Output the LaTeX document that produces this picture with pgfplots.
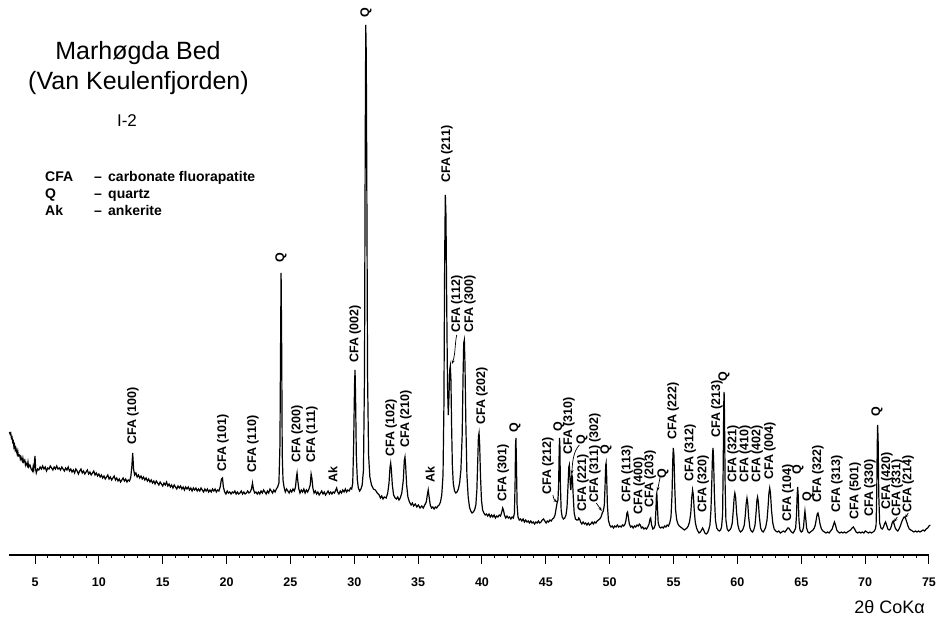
\documentclass[border=0pt]{standalone}
\usepackage{fontspec}
\setmainfont{Liberation Sans}
\usepackage{pgfplots}
\pgfplotsset{compat=1.18}
\usetikzlibrary{arrows.meta}
\tikzset{
  lab/.style={rotate=90, inner sep=0pt, font=\bfseries\fontsize{12.5bp}{14bp}\selectfont},
  arr/.style={line width=0.7bp, -{Stealth[length=4bp,width=3bp]}},
}

\begin{document}
\begin{tikzpicture}
\useasboundingbox (0,0) rectangle (939bp,618bp);
\begin{axis}[
  at={(9.46bp,63bp)}, anchor=south west,
  scale only axis, width=919.5bp, height=555bp,
  xmin=3, xmax=75, ymin=0, ymax=555,
  clip=false,
  axis x line*=bottom, axis y line=none,
  axis line style={line width=1.7bp},
  xtick={5,10,...,75}, minor x tick num=4,
  tick align=outside,
  major tick length=9bp, minor tick length=3bp,
  every tick/.style={black, line width=1bp},
  /pgf/number format/assume math mode=true,
  xticklabel style={font=\bfseries\fontsize{12.5bp}{14bp}\selectfont, inner sep=0pt, anchor=north, yshift=-14bp},
]
% diffraction trace (2theta, intensity)
\addplot[black, line width=1.2bp] coordinates {
(3.00,123)(3.05,121)(3.10,122)(3.15,117)(3.20,118)(3.25,113)(3.30,114)(3.35,108)(3.40,110)(3.45,105)
(3.50,107)(3.60,101)(3.65,104)(3.70,99)(3.80,100)(3.85,96)(3.90,98)(4.00,94)(4.05,97)(4.10,93)
(4.20,95)(4.25,90)(4.30,92)(4.40,89)(4.45,93)(4.50,88)(4.60,90)(4.70,86)(4.80,84)(4.85,88)
(4.90,85)(4.95,92)(5.00,99)(5.05,86)(5.10,82)(5.20,86)(5.30,85)(5.40,88)(5.50,86)(5.60,89)
(5.70,86)(5.80,88)(5.90,84)(6.00,87)(6.10,86)(6.20,89)(6.30,87)(6.40,85)(6.50,88)(6.60,86)
(6.70,89)(6.80,86)(6.90,87)(7.00,85)(7.10,88)(7.20,86)(7.30,84)(7.40,87)(7.50,85)(7.60,88)
(7.70,84)(7.80,86)(7.90,83)(8.00,85)(8.10,82)(8.20,86)(8.30,84)(8.40,81)(8.50,84)(8.60,86)
(8.70,82)(8.80,84)(8.90,81)(9.00,83)(9.10,85)(9.20,81)(9.30,83)(9.40,80)(9.50,82)(9.60,84)
(9.70,80)(9.80,82)(9.90,79)(10.00,81)(10.10,78)(10.20,80)(10.30,77)(10.40,79)(10.50,76)(10.60,78)
(10.70,80)(10.80,76)(10.90,78)(11.00,75)(11.10,77)(11.20,79)(11.30,75)(11.40,77)(11.50,74)(11.60,76)
(11.70,73)(11.80,75)(11.90,77)(12.00,74)(12.10,76)(12.20,73)(12.30,75)(12.40,74)(12.50,78)(12.58,88)
(12.65,102)(12.72,86)(12.80,80)(12.90,82)(13.00,78)(13.10,80)(13.20,77)(13.30,79)(13.40,76)(13.50,78)
(13.60,75)(13.70,77)(13.80,74)(13.90,76)(14.00,73)(14.10,75)(14.20,72)(14.30,74)(14.40,71)(14.50,74)
(14.60,72)(14.70,70)(14.80,73)(14.90,71)(15.00,69)(15.10,72)(15.20,70)(15.30,73)(15.40,69)(15.50,71)
(15.60,68)(15.70,70)(15.80,67)(15.90,70)(16.00,68)(16.10,66)(16.20,69)(16.30,67)(16.40,69)(16.50,66)
(16.60,68)(16.70,65)(16.80,68)(16.90,66)(17.00,68)(17.10,65)(17.20,67)(17.30,64)(17.40,67)(17.50,65)
(17.60,67)(17.70,64)(17.80,66)(17.90,64)(18.00,67)(18.10,65)(18.20,63)(18.30,66)(18.40,64)(18.50,66)
(18.60,63)(18.70,65)(18.80,63)(18.90,66)(19.00,64)(19.10,66)(19.20,63)(19.30,65)(19.40,64)(19.50,68)
(19.60,76)(19.68,77)(19.75,68)(19.85,63)(19.95,61)(20.05,64)(20.15,62)(20.25,63)(20.35,61)(20.45,63)
(20.55,62)(20.65,64)(20.75,61)(20.85,63)(20.95,61)(21.05,62)(21.15,64)(21.25,61)(21.35,63)(21.45,61)
(21.55,62)(21.65,64)(21.75,62)(21.85,63)(21.95,66)(22.03,72)(22.10,66)(22.20,62)(22.30,63)(22.40,61)
(22.50,63)(22.60,61)(22.70,64)(22.80,62)(22.90,65)(23.00,63)(23.10,61)(23.20,64)(23.30,62)(23.40,66)
(23.50,64)(23.60,62)(23.70,65)(23.80,63)(23.90,66)(24.00,68)(24.10,72)(24.18,110)(24.24,230)(24.27,282)
(24.31,220)(24.36,100)(24.42,75)(24.50,68)(24.60,63)(24.70,66)(24.80,64)(24.90,62)(25.00,65)(25.10,63)
(25.20,66)(25.30,64)(25.40,68)(25.47,78)(25.52,82)(25.58,74)(25.66,66)(25.75,62)(25.85,65)(25.95,63)
(26.05,66)(26.15,62)(26.25,65)(26.35,63)(26.45,66)(26.55,70)(26.62,81)(26.68,77)(26.76,67)(26.85,62)
(26.95,64)(27.05,61)(27.15,63)(27.25,60)(27.35,62)(27.45,64)(27.55,61)(27.65,63)(27.75,60)(27.85,62)
(27.95,64)(28.05,61)(28.15,63)(28.25,61)(28.35,63)(28.45,62)(28.55,65)(28.62,67)(28.70,63)(28.80,61)
(28.90,64)(29.00,62)(29.10,65)(29.20,63)(29.30,66)(29.40,63)(29.50,65)(29.60,64)(29.70,67)(29.80,66)
(29.88,72)(29.95,110)(30.02,170)(30.06,185)(30.10,160)(30.16,100)(30.24,75)(30.32,67)(30.42,64)(30.52,66)
(30.62,70)(30.72,85)(30.80,180)(30.86,420)(30.90,530)(30.94,500)(30.98,380)(31.04,180)(31.12,100)(31.22,78)
(31.35,70)(31.50,66)(31.65,65)(31.80,62)(31.95,60)(32.05,57)(32.15,59)(32.25,56)(32.35,58)(32.50,57)
(32.62,62)(32.72,72)(32.80,88)(32.85,92)(32.90,86)(32.98,70)(33.08,60)(33.20,57)(33.30,56)(33.40,58)
(33.50,55)(33.60,57)(33.72,62)(33.84,75)(33.92,95)(33.97,98)(34.02,90)(34.10,70)(34.20,58)(34.32,53)
(34.45,50)(34.55,52)(34.65,49)(34.78,51)(34.90,48)(35.02,50)(35.15,47)(35.28,49)(35.40,47)(35.52,50)
(35.64,53)(35.72,60)(35.79,65)(35.86,58)(35.95,50)(36.05,47)(36.15,48)(36.25,46)(36.35,48)(36.45,47)
(36.55,49)(36.65,50)(36.75,53)(36.85,60)(36.95,80)(37.02,150)(37.08,300)(37.13,360)(37.18,340)(37.24,250)
(37.30,170)(37.36,140)(37.42,160)(37.47,185)(37.52,189)(37.57,175)(37.62,130)(37.68,90)(37.75,72)(37.85,64)
(37.95,62)(38.05,63)(38.15,66)(38.25,72)(38.35,85)(38.45,120)(38.52,180)(38.57,212)(38.62,215)(38.67,190)
(38.74,130)(38.82,80)(38.92,58)(39.02,48)(39.12,44)(39.22,42)(39.32,43)(39.42,45)(39.52,50)(39.60,65)
(39.67,95)(39.72,118)(39.77,122)(39.82,110)(39.88,80)(39.96,55)(40.05,45)(40.15,42)(40.25,40)(40.35,41)
(40.45,39)(40.55,41)(40.65,38)(40.75,40)(40.85,38)(40.95,40)(41.05,37)(41.15,39)(41.25,38)(41.35,40)
(41.45,39)(41.55,43)(41.62,47)(41.68,45)(41.76,40)(41.86,37)(41.96,39)(42.06,37)(42.16,38)(42.26,36)
(42.36,38)(42.46,37)(42.54,42)(42.59,70)(42.63,110)(42.66,117)(42.70,90)(42.75,50)(42.82,38)(42.92,35)
(43.02,36)(43.12,34)(43.22,36)(43.32,33)(43.42,35)(43.52,33)(43.62,34)(43.72,32)(43.82,34)(43.92,32)
(44.02,33)(44.12,31)(44.22,33)(44.32,32)(44.42,34)(44.52,32)(44.62,33)(44.72,35)(44.82,36)(44.92,34)
(45.02,32)(45.12,34)(45.22,33)(45.32,35)(45.42,34)(45.52,36)(45.62,37)(45.72,40)(45.80,46)(45.88,52)
(45.95,55)(46.00,70)(46.04,100)(46.07,117)(46.10,110)(46.14,70)(46.20,45)(46.28,38)(46.38,36)(46.48,37)
(46.58,40)(46.66,48)(46.74,70)(46.80,88)(46.84,90)(46.88,80)(46.92,70)(46.96,65)(47.00,75)(47.04,80)
(47.08,78)(47.14,60)(47.22,42)(47.32,36)(47.42,35)(47.52,35)(47.58,37)(47.64,36)(47.72,33)(47.82,31)
(47.92,33)(48.02,31)(48.12,32)(48.22,30)(48.32,32)(48.42,30)(48.52,31)(48.62,33)(48.72,31)(48.82,33)
(48.92,32)(49.02,34)(49.12,35)(49.22,36)(49.32,38)(49.42,42)(49.50,44)(49.58,50)(49.64,70)(49.69,90)
(49.72,92)(49.76,80)(49.82,50)(49.90,35)(50.00,30)(50.10,28)(50.20,29)(50.30,27)(50.40,29)(50.50,28)
(50.60,30)(50.70,28)(50.80,29)(50.90,28)(51.00,30)(51.10,29)(51.20,31)(51.28,35)(51.35,42)(51.40,43)
(51.46,38)(51.54,31)(51.64,28)(51.74,29)(51.84,27)(51.94,29)(52.04,28)(52.14,30)(52.24,29)(52.32,31)
(52.40,30)(52.48,27)(52.58,28)(52.68,26)(52.78,27)(52.88,26)(52.98,28)(53.08,31)(53.16,36)(53.21,37)
(53.28,30)(53.38,26)(53.48,27)(53.56,30)(53.62,45)(53.66,60)(53.69,62)(53.73,50)(53.80,32)(53.90,28)
(54.00,27)(54.10,28)(54.20,27)(54.30,29)(54.40,28)(54.50,30)(54.60,29)(54.70,32)(54.80,38)(54.88,60)
(54.94,95)(54.98,107)(55.03,100)(55.09,70)(55.16,45)(55.25,35)(55.35,31)(55.45,29)(55.55,28)(55.65,27)
(55.75,26)(55.85,25)(55.95,26)(56.05,27)(56.15,29)(56.25,33)(56.35,42)(56.43,58)(56.49,65)(56.55,60)
(56.62,45)(56.70,33)(56.80,27)(56.90,24)(57.00,22)(57.10,23)(57.20,25)(57.28,27)(57.36,25)(57.45,22)
(57.55,21)(57.65,22)(57.75,25)(57.85,30)(57.93,45)(58.00,75)(58.05,100)(58.09,107)(58.13,98)(58.20,60)
(58.28,35)(58.38,27)(58.48,25)(58.58,24)(58.68,25)(58.76,28)(58.84,40)(58.89,90)(58.93,150)(58.96,163)
(58.99,140)(59.04,70)(59.10,35)(59.20,26)(59.30,24)(59.40,25)(59.50,27)(59.60,32)(59.68,45)(59.75,58)
(59.80,62)(59.86,58)(59.94,42)(60.04,30)(60.14,25)(60.24,23)(60.34,24)(60.44,26)(60.54,30)(60.62,40)
(60.69,52)(60.75,57)(60.81,52)(60.88,38)(60.98,27)(61.08,24)(61.18,23)(61.28,25)(61.38,30)(61.46,42)
(61.53,55)(61.58,58)(61.64,53)(61.72,38)(61.82,27)(61.92,24)(62.02,23)(62.12,25)(62.22,28)(62.32,35)
(62.40,48)(62.47,62)(62.53,67)(62.59,62)(62.67,45)(62.77,32)(62.88,26)(63.00,24)(63.12,23)(63.24,24)
(63.36,22)(63.48,23)(63.60,24)(63.72,23)(63.84,25)(63.94,27)(64.02,27)(64.12,25)(64.24,23)(64.36,22)
(64.46,24)(64.56,27)(64.63,40)(64.68,60)(64.72,68)(64.76,60)(64.82,35)(64.90,25)(65.00,23)(65.10,24)
(65.18,28)(65.24,38)(65.29,44)(65.34,38)(65.42,27)(65.52,23)(65.62,22)(65.72,23)(65.82,24)(65.92,25)
(66.02,27)(66.10,30)(66.18,36)(66.25,41)(66.31,42)(66.38,38)(66.47,31)(66.58,26)(66.70,24)(66.82,23)
(66.94,22)(67.06,23)(67.18,22)(67.30,24)(67.42,26)(67.52,30)(67.60,33)(67.68,30)(67.78,25)(67.90,23)
(68.02,22)(68.14,23)(68.26,22)(68.38,23)(68.50,22)(68.62,23)(68.74,24)(68.86,25)(68.98,27)(69.08,28)
(69.18,26)(69.30,23)(69.42,22)(69.54,23)(69.66,22)(69.78,23)(69.90,22)(70.02,24)(70.14,23)(70.26,22)
(70.38,23)(70.50,22)(70.62,23)(70.72,24)(70.80,26)(70.86,30)(70.91,60)(70.95,110)(70.98,130)(71.02,115)
(71.07,60)(71.14,32)(71.24,27)(71.34,26)(71.44,28)(71.52,31)(71.60,33)(71.68,30)(71.78,26)(71.88,25)
(71.98,26)(72.06,29)(72.14,33)(72.20,34)(72.27,31)(72.36,27)(72.46,25)(72.56,24)(72.66,26)(72.76,29)
(72.86,33)(72.96,36)(73.06,38)(73.16,37)(73.26,33)(73.36,29)(73.46,26)(73.58,25)(73.70,24)(73.82,23)
(73.94,24)(74.06,23)(74.18,24)(74.30,23)(74.42,24)(74.54,25)(74.66,24)(74.78,26)(74.90,27)(75.00,29)
(75.10,30)
};

% phase annotations
\node[lab, anchor=west] at (axis cs:12.67,110) {CFA (100)};
\node[lab, anchor=west] at (axis cs:19.72,83) {CFA (101)};
\node[lab, anchor=west] at (axis cs:22.07,82) {CFA (110)};
\node[lab] at (axis cs:24.26,297) {Q};
\node[lab, anchor=west] at (axis cs:25.52,92) {CFA (200)};
\node[lab, anchor=west] at (axis cs:26.69,92) {CFA (111)};
\node[lab, anchor=west] at (axis cs:28.33,72) {Ak};
\node[lab, anchor=west] at (axis cs:30.06,192) {CFA (002)};
\node[lab] at (axis cs:30.92,542) {Q};
\node[lab, anchor=west] at (axis cs:32.88,98) {CFA (102)};
\node[lab, anchor=west] at (axis cs:34.05,107) {CFA (210)};
\node[lab, anchor=west] at (axis cs:35.93,72) {Ak};
\node[lab, anchor=west] at (axis cs:37.26,372) {CFA (211)};
\node[lab, anchor=west] at (axis cs:38.04,222) {CFA (112)};
\draw[arr] (axis cs:38.02,220) .. controls (axis cs:37.88,212) and (axis cs:37.92,200) .. (axis cs:37.64,191);
\node[lab, anchor=west] at (axis cs:39.06,222) {CFA (300)};
\node[lab, anchor=west] at (axis cs:40.00,130) {CFA (202)};
\node[lab, anchor=west] at (axis cs:41.65,53) {CFA (301)};
\node[lab] at (axis cs:42.59,127) {Q};
\node[lab, anchor=west] at (axis cs:45.17,60) {CFA (212)};
\draw[arr] (axis cs:45.55,60) .. controls (axis cs:45.65,55) .. (axis cs:45.90,53);
\node[lab] at (axis cs:46.03,128) {Q};
\node[lab, anchor=west] at (axis cs:46.80,100) {CFA (310)};
\node[lab] at (axis cs:47.83,115) {Q};
\draw[arr] (axis cs:47.62,110) .. controls (axis cs:47.20,104) and (axis cs:47.08,95) .. (axis cs:47.04,81);
\node[lab, anchor=west] at (axis cs:47.90,43) {CFA (221)};
\node[lab, anchor=west] at (axis cs:48.85,52) {CFA (311) (302)};
\draw[arr] (axis cs:48.95,52) -- (axis cs:49.38,44);
\node[lab] at (axis cs:49.71,105) {Q};
\node[lab, anchor=west] at (axis cs:51.36,52) {CFA (113)};
\node[lab, anchor=west] at (axis cs:52.30,40) {CFA (400)};
\node[lab, anchor=west] at (axis cs:53.16,47) {CFA (203)};
\node[lab] at (axis cs:54.17,81) {Q};
\draw[arr] (axis cs:53.95,78) -- (axis cs:53.74,64);
\node[lab, anchor=west] at (axis cs:54.96,115) {CFA (222)};
\node[lab, anchor=west] at (axis cs:56.29,73) {CFA (312)};
\node[lab, anchor=west] at (axis cs:57.31,42) {CFA (320)};
\node[lab, anchor=west] at (axis cs:58.40,117) {CFA (213)};
\node[lab] at (axis cs:58.95,178) {Q};
\node[lab, anchor=west] at (axis cs:59.66,72) {CFA (321)};
\node[lab, anchor=west] at (axis cs:60.60,72) {CFA (410)};
\node[lab, anchor=west] at (axis cs:61.54,72) {CFA (402)};
\node[lab, anchor=west] at (axis cs:62.55,75) {CFA (004)};
\node[lab, anchor=west] at (axis cs:63.96,33) {CFA (104)};
\node[lab] at (axis cs:64.75,85) {Q};
\node[lab] at (axis cs:65.53,58) {Q};
\node[lab, anchor=west] at (axis cs:66.31,52) {CFA (322)};
\node[lab, anchor=west] at (axis cs:67.80,42) {CFA (313)};
\node[lab, anchor=west] at (axis cs:69.21,35) {CFA (501)};
\node[lab, anchor=west] at (axis cs:70.38,38) {CFA (330)};
\node[lab] at (axis cs:70.93,143) {Q};
\node[lab, anchor=west] at (axis cs:71.71,45) {CFA (420)};
\node[lab, anchor=west] at (axis cs:72.50,38) {CFA (331)};
\draw[arr] (axis cs:72.52,38) -- (axis cs:72.26,33);
\node[lab, anchor=west] at (axis cs:73.36,42) {CFA (214)};
\draw[arr] (axis cs:73.38,42) -- (axis cs:73.12,37);
\end{axis}

% heading
\node[anchor=base, font=\fontsize{25bp}{30bp}\selectfont] at (138bp,558bp) {Marhøgda Bed};
\node[anchor=base, font=\fontsize{25bp}{30bp}\selectfont] at (138.5bp,528bp) {(Van Keulenfjorden)};
\node[anchor=base, font=\fontsize{17bp}{20bp}\selectfont] at (127bp,491bp) {I-2};

% key to phase abbreviations
\begin{scope}[every node/.style={anchor=base west, inner sep=0pt, font=\bfseries\fontsize{14bp}{16bp}\selectfont}]
\node at (45bp,436bp) {CFA};
\node at (94bp,436bp) {–};
\node at (108bp,436bp) {carbonate fluorapatite};
\node at (45bp,419bp) {Q};
\node at (94bp,419bp) {–};
\node at (108bp,419bp) {quartz};
\node at (45bp,402bp) {Ak};
\node at (94bp,402bp) {–};
\node at (108bp,402bp) {ankerite};
\end{scope}

% axis title
\node[anchor=base east, inner sep=0pt, font=\fontsize{18bp}{20bp}\selectfont] at (925bp,5bp) {2θ CoKα};
\end{tikzpicture}
\end{document}
